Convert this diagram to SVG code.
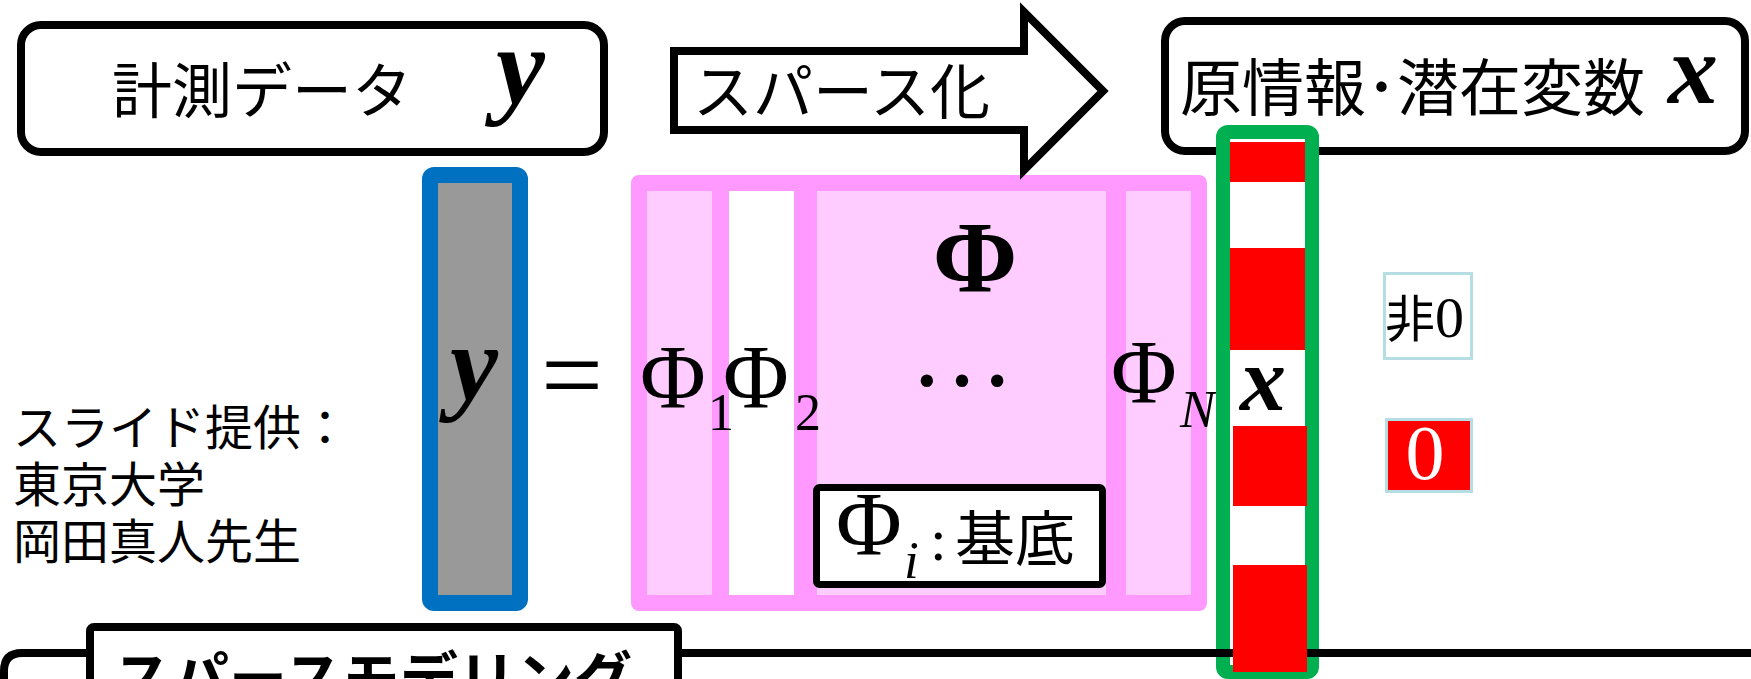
<svg xmlns="http://www.w3.org/2000/svg" width="1751" height="679" viewBox="0 0 1751 679">
<style>
.jp{font-family:"Noto Sans CJK JP","Noto Sans CJK SC",sans-serif;fill:#000}
.sf{font-family:"Liberation Serif","Times New Roman",serif;fill:#000}
.bi{font-family:"Liberation Serif","Times New Roman",serif;font-weight:bold;font-style:italic;fill:#000}
.title{fill:#fff;stroke:#000;stroke-width:8}
.col{stroke:#FF99FF;stroke-width:16;fill:#FFCCFF}
.red{fill:#FF0000}
.leg{stroke:#B7DDE4;stroke-width:3}
</style>
<rect width="1751" height="679" fill="#fff"/>

<g id="node-measure">
<rect class="title" x="21" y="25" width="583" height="127" rx="20"/>
<text class="jp" x="112" y="113" font-size="60">計測データ</text>
<text class="bi" x="496" y="104" font-size="110">y</text>
</g>

<g id="node-original">
<rect class="title" x="1165" y="21" width="580" height="130" rx="20"/>
<text class="jp" x="1180" y="111" font-size="62">原情報･潜在変数</text>
<text class="bi" x="1668" y="103" font-size="100">x</text>
</g>

<g id="node-y-vector">
<rect x="430" y="175" width="90" height="428" rx="4" fill="#999999" stroke="#0070C0" stroke-width="16"/>
<text class="bi" x="450" y="400" font-size="108">y</text>
</g>

<text id="equals" class="sf" x="541" y="412" font-size="110">=</text>

<g id="node-phi-matrix">
<rect x="631" y="175" width="576" height="436" rx="8" fill="#FF99FF"/>
<rect x="647" y="191" width="65" height="404" fill="#FFCCFF"/>
<rect x="729" y="191" width="65" height="404" fill="#FFFFFF"/>
<rect x="817" y="191" width="289" height="404" fill="#FFCCFF"/>
<rect x="1126" y="191" width="65" height="404" fill="#FFCCFF"/>
<text class="sf" x="975" y="292" font-size="102" font-weight="bold" text-anchor="middle">Φ</text>
<text class="sf" x="962" y="386" font-size="105" text-anchor="middle">…</text>
<text class="sf" x="640" y="408" font-size="90">Φ</text>
<text class="sf" x="708" y="430" font-size="52">1</text>
<text class="sf" x="723" y="408" font-size="90">Φ</text>
<text class="sf" x="795" y="430" font-size="52">2</text>
<text class="sf" x="1111" y="403" font-size="90">Φ</text>
<text class="sf" x="1180" y="427" font-size="53" font-style="italic">N</text>
</g>

<g id="node-phi-i">
<rect x="816.5" y="487.5" width="286" height="97" rx="3" fill="#fff" stroke="#000" stroke-width="7"/>
<text class="sf" x="836" y="555" font-size="90">Φ</text>
<text class="sf" x="904" y="578" font-size="53" font-style="italic">i</text>
<text class="sf" x="930" y="560" font-size="60">:</text>
<text class="jp" x="955" y="561" font-size="60">基底</text>
</g>

<g id="node-sparsify-arrow">
<path d="M674,51 H1024 V12 L1103,91 L1024,170 V130 H674 Z" fill="#fff" stroke="#000" stroke-width="8" stroke-miterlimit="10"/>
<text class="jp" x="693" y="114" font-size="60">スパース化</text>
</g>

<g id="node-x-vector">
<rect x="1223" y="132" width="89" height="540" rx="5" fill="#fff" stroke="#00B050" stroke-width="14"/>
</g>

<g id="connectors">
<path d="M4,700 V671 Q4,653 22,653 H1760" fill="none" stroke="#000" stroke-width="8"/>
</g>

<g id="node-x-blocks">
<rect class="red" x="1230" y="142" width="75" height="40"/>
<rect class="red" x="1230" y="248" width="75" height="102"/>
<rect class="red" x="1233" y="426" width="74" height="80"/>
<rect class="red" x="1233" y="565" width="74" height="107"/>
<text class="bi" x="1240" y="410" font-size="92">x</text>
</g>

<g id="node-sparse-modeling">
<rect x="90" y="627" width="588" height="100" rx="4" fill="#fff" stroke="#000" stroke-width="8"/>
<text class="jp" x="113" y="700" font-size="58" font-weight="bold">スパースモデリング</text>
</g>

<g id="node-legend-nonzero">
<rect class="leg" x="1384.5" y="273.5" width="87" height="85" fill="#fff"/>
<text class="jp" x="1385" y="337" font-size="50">非<tspan font-size="58" style="font-family:'Liberation Serif',serif">0</tspan></text>
</g>

<g id="node-legend-zero">
<rect class="leg" x="1386.5" y="419.5" width="85" height="72" fill="#FF0000"/>
<text class="sf" x="1425" y="479" font-size="78" text-anchor="middle" style="fill:#fff">0</text>
</g>

<g id="node-credit">
<text class="jp" x="13" y="445" font-size="48">スライド提供：</text>
<text class="jp" x="13" y="502" font-size="48">東京大学</text>
<text class="jp" x="13" y="559" font-size="48">岡田真人先生</text>
</g>
</svg>
